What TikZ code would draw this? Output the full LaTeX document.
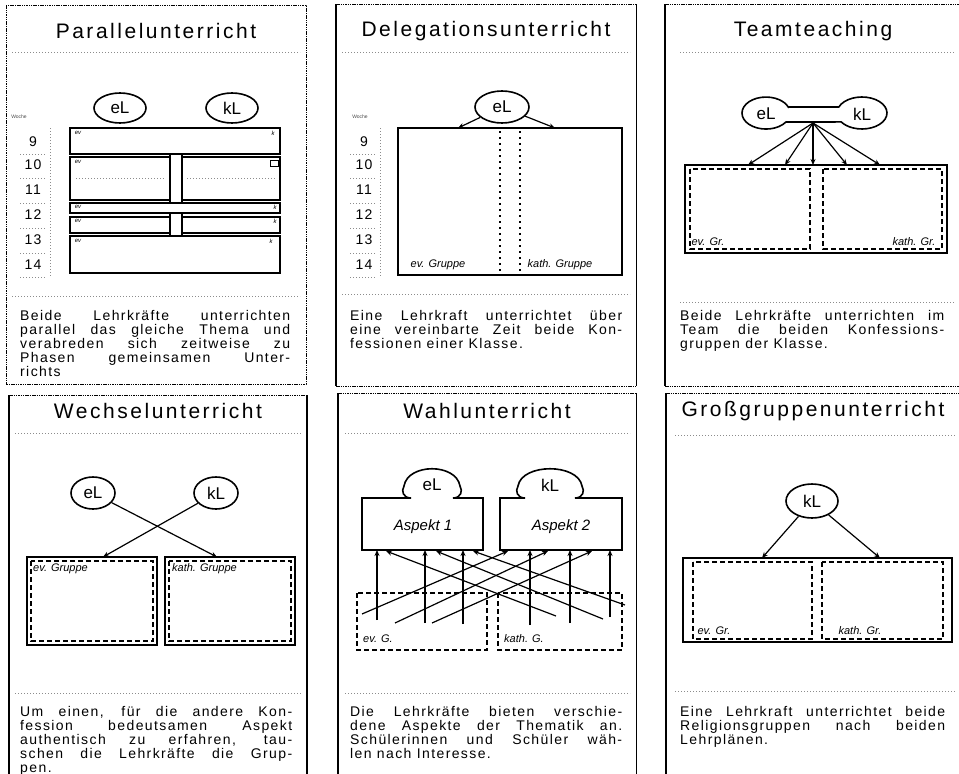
\documentclass[tikz,border=0pt]{standalone}
\usepackage{fontspec}
\setmainfont{Liberation Sans}
\newfontfamily\titlefont[LetterSpace=12]{Liberation Sans}
\newfontfamily\bodyfont[LetterSpace=10]{Liberation Sans}
\newfontfamily\numfont[LetterSpace=8]{Liberation Sans}
\usetikzlibrary{arrows.meta,shapes.geometric}
\newcommand{\jline}[2]{\makebox[#1][s]{#2}}
\begin{document}
\begin{tikzpicture}[x=1pt,y=-1pt,
  titletxt/.style={font=\titlefont\fontsize{21}{23}\selectfont, inner sep=0pt},
  bodytxt/.style={font=\bodyfont\fontsize{14}{15}\selectfont, inner sep=0pt, anchor=base west},
  numtxt/.style={font=\numfont\fontsize{14}{15}\selectfont, inner sep=0pt},
  tinytxt/.style={font=\fontsize{5}{6}\selectfont, inner sep=0pt, text=black!70},
  marktxt/.style={font=\itshape\fontsize{6}{7}\selectfont, inner sep=0pt},
  hand/.style={font=\itshape\fontsize{11}{12}\selectfont, inner sep=0pt},
  handbig/.style={font=\fontsize{17}{19}\selectfont, inner sep=0pt},
  handasp/.style={font=\itshape\fontsize{15}{17}\selectfont, inner sep=0pt},
  teacher/.style={ellipse, draw, line width=1.6pt, inner sep=0pt, font=\fontsize{17}{19}\selectfont},
  dline/.style={line width=1.4pt},
  bigbox/.style={line width=2.4pt},
  grp/.style={line width=1.3pt, dash pattern=on 5pt off 3pt},
  dotv/.style={line width=1.4pt, dash pattern=on 2pt off 4pt},
  arr/.style={line width=1.2pt, -{Stealth[length=6pt,width=5pt]}},
  scanline/.style={black!45, line width=0.6pt, dash pattern=on 1pt off 2pt},
  pedge/.style={line width=0.8pt, dash pattern=on 1.5pt off 0.8pt},
  pleft/.style={line width=1.8pt},
]
\useasboundingbox (0,0) rectangle (959,774);
\fill[white] (0,0) rectangle (959,774);

% ---------- panel frames ----------
\draw[pedge] (6,5) rectangle (306,384);
\draw[pleft] (336,4) -- (336,386);
\draw[line width=1pt] (636,4) -- (636,386);
\draw[pedge] (336,4) -- (636,4) (336,386) -- (636,386);
\draw[pleft] (665,4) -- (665,386);
\draw[pedge] (665,4) -- (959,4) (665,386) -- (959,386);
\draw[line width=1.5pt] (9,395) -- (9,774);
\draw[line width=1.2pt] (307,395) -- (307,774);
\draw[pedge] (9,395) -- (307,395);
\draw[pleft] (338,393) -- (338,774);
\draw[line width=1pt] (636,393) -- (636,774);
\draw[pedge] (338,393) -- (636,393);
\draw[pleft] (666,393) -- (666,774);
\draw[pedge] (666,393) -- (959,393);

% scan rules
\draw[scanline] (12,52) -- (300,52) (12,296) -- (300,296);
\draw[scanline] (342,52) -- (630,52) (342,294) -- (630,294);
\draw[scanline] (680,52) -- (955,52) (680,302) -- (955,302);
\draw[scanline] (15,433) -- (302,433) (15,693) -- (302,693);
\draw[scanline] (345,433) -- (630,433) (345,693) -- (630,693);
\draw[scanline] (675,435) -- (955,435) (675,691) -- (955,691);

% ---------- titles ----------
\node[titletxt] (ti1) at (156,31) {Parallelunterricht};
\node[titletxt] (ti2) at (486,31) {Delegationsunterricht};
\node[titletxt] (ti3) at (813,31) {Teamteaching};
\node[titletxt] (ti4) at (158,411) {Wechselunterricht};
\node[titletxt] (ti5) at (487,411) {Wahlunterricht};
\node[titletxt] (ti6) at (813,411) {Großgruppenunterricht};

% ---------- Panel 1 ----------
\node[tinytxt] (wo1) at (19,117) {Woche};
\foreach \n/\yy in {9/142,10/165,11/190,12/215,13/240,14/265}
  \node[numtxt] (pa\n) at (33,\yy) {\n};
\draw[scanline] (50,128) -- (50,277);
\foreach \yy in {154,178,203,228,253,277} \draw[scanline] (20,\yy) -- (45,\yy);
\node[teacher, minimum width=52pt, minimum height=30pt] (el1) at (120,108) {eL};
\node[teacher, minimum width=52pt, minimum height=30pt] (kl1) at (232,108) {kL};
\draw[dline] (70,128) rectangle (280,154);
\draw[dline] (70,157) rectangle (170,200);
\draw[dline] (182,157) rectangle (280,200);
\draw[dline] (70,203) rectangle (280,213);
\draw[dline] (70,217) rectangle (170,233);
\draw[dline] (182,217) rectangle (280,233);
\draw[dline] (70,236) rectangle (280,273);
\draw[dline] (170,154) -- (170,203) (182,154) -- (182,203);
\draw[dline] (170,213) -- (170,236) (182,213) -- (182,236);
\draw[scanline] (76,178) -- (165,178) (187,178) -- (275,178);
\foreach \yy [count=\i] in {133,162,207,221,241} \node[marktxt] (mev\i) at (78,\yy) {ev};
\foreach \yy/\xx [count=\i] in {133/273,207/275,221/275,241/271} \node[marktxt] (mk\i) at (\xx,\yy) {k};
\draw[line width=0.8pt] (270,160) rectangle (278,166);

\node[bodytxt] (b1a) at (20,320) {\jline{270pt}{Beide Lehrkräfte unterrichten}};
\node[bodytxt] (b1b) at (20,334) {\jline{270pt}{parallel das gleiche Thema und}};
\node[bodytxt] (b1c) at (20,348) {\jline{270pt}{verabreden sich zeitweise zu}};
\node[bodytxt] (b1d) at (20,362) {\jline{270pt}{Phasen gemeinsamen Unter-}};
\node[bodytxt] (b1e) at (20,376) {richts};

% ---------- Panel 2 ----------
\node[tinytxt] (wo2) at (360,117) {Woche};
\foreach \n/\yy in {9/142,10/165,11/190,12/215,13/240,14/265}
  \node[numtxt] (pb\n) at (364,\yy) {\n};
\draw[scanline] (380,128) -- (380,277);
\foreach \yy in {154,178,203,228,253,277} \draw[scanline] (350,\yy) -- (376,\yy);
\node[teacher, minimum width=54pt, minimum height=32pt] (el2) at (502,107) {eL};
\draw[bigbox] (398,128) rectangle (622,275);
\coordinate (d2a) at (458,128);
\coordinate (d2b) at (555,128);
\draw[arr] (el2) -- (d2a);
\draw[arr] (el2) -- (d2b);
\draw[dotv] (500,131) -- (500,273) (520,131) -- (520,273);
\node[hand] (lg2a) at (438,265) {ev. Gruppe};
\node[hand] (lg2b) at (560,265) {kath. Gruppe};

\node[bodytxt] (b2a) at (350,320) {\jline{272pt}{Eine Lehrkraft unterrichtet über}};
\node[bodytxt] (b2b) at (350,334) {\jline{272pt}{eine vereinbarte Zeit beide Kon-}};
\node[bodytxt] (b2c) at (350,348) {fessionen einer Klasse.};

% ---------- Panel 3 ----------
\draw[line width=1.6pt] (788.3,107) -- (838.8,107)
  arc[start angle=158, end angle=-146, x radius=25pt, y radius=16pt]
  -- (785.9,122)
  arc[start angle=-34, end angle=-338, x radius=24pt, y radius=16pt] -- cycle;
\node[handbig] (el3) at (766,114) {eL};
\node[handbig] (kl3) at (862,114) {kL};
\coordinate (tto) at (813,123);
\draw[bigbox] (685,165) rectangle (947,253);
\draw[grp] (690,169) rectangle (810,249);
\draw[grp] (823,169) rectangle (942,249);
\foreach \xx [count=\i] in {748,785,813,847,880} {
  \coordinate (tt\i) at (\xx,165);
  \draw[arr] (tto) -- (tt\i);
}
\node[hand] (lg3a) at (708,242) {ev. Gr.};
\node[hand] (lg3b) at (914,242) {kath. Gr.};

\node[bodytxt] (b3a) at (680,320) {\jline{264pt}{Beide Lehrkräfte unterrichten im}};
\node[bodytxt] (b3b) at (680,334) {\jline{264pt}{Team die beiden Konfessions-}};
\node[bodytxt] (b3c) at (680,348) {gruppen der Klasse.};

% ---------- Panel 4 ----------
\node[teacher, minimum width=44pt, minimum height=32pt] (el4) at (93,493) {eL};
\node[teacher, minimum width=44pt, minimum height=32pt] (kl4) at (216,493) {kL};
\draw[bigbox] (27,557) rectangle (157,645);
\draw[bigbox] (165,557) rectangle (295,645);
\draw[grp] (31,561) rectangle (153,641);
\draw[grp] (169,561) rectangle (291,641);
\coordinate (w4a) at (103,557);
\coordinate (w4b) at (217,557);
\draw[arr] (el4) -- (w4b);
\draw[arr] (kl4) -- (w4a);
\node[hand, anchor=west] (lg4a) at (33,569) {ev. Gruppe};
\node[hand, anchor=west] (lg4b) at (172,569) {kath. Gruppe};

\node[bodytxt] (b4a) at (20,716) {\jline{272pt}{Um einen, für die andere Kon-}};
\node[bodytxt] (b4b) at (20,730) {\jline{272pt}{fession bedeutsamen Aspekt}};
\node[bodytxt] (b4c) at (20,744) {\jline{272pt}{authentisch zu erfahren, tau-}};
\node[bodytxt] (b4d) at (20,758) {\jline{272pt}{schen die Lehrkräfte die Grup-}};
\node[bodytxt] (b4e) at (20,772) {pen.};

% ---------- Panel 5 ----------
\draw[line width=1.6pt] (362,550) -- (362,498) -- (411,498)
  .. controls (403,498) and (401,491) .. (404,486)
  .. controls (408,463) and (456,463) .. (460,486)
  .. controls (463,491) and (461,498) .. (453,498)
  -- (483,498) -- (483,550) -- cycle;
\draw[line width=1.6pt] (500,550) -- (500,498) -- (525,498)
  .. controls (517,498) and (515,491) .. (518,486)
  .. controls (522,463) and (578,463) .. (582,486)
  .. controls (585,491) and (583,498) .. (575,498)
  -- (622,498) -- (622,550) -- cycle;
\node[handbig] (el5) at (432,485) {eL};
\node[handbig] (kl5) at (550,485) {kL};
\node[handasp] (as1) at (423,527) {Aspekt 1};
\node[handasp] (as2) at (561,527) {Aspekt 2};
\draw[grp] (357,593) rectangle (487,650);
\draw[grp] (498,593) rectangle (622,650);
\foreach \xx/\yy [count=\i] in {377/620,425/623,463/624,530/625,570/623,610/617} {
  \coordinate (vs\i) at (\xx,\yy);
  \coordinate (ve\i) at (\xx,550);
  \draw[arr] (vs\i) -- (ve\i);
}
\foreach \sx/\sy/\ex [count=\i] in {556/616/386,603/619/436,625/605/473} {
  \coordinate (ds\i) at (\sx,\sy);
  \coordinate (de\i) at (\ex,551);
  \draw[arr] (ds\i) -- (de\i);
}
\foreach \sx/\sy/\ex [count=\i] in {362/614/508,395/623/548,432/623/592} {
  \coordinate (fs\i) at (\sx,\sy);
  \coordinate (fe\i) at (\ex,551);
  \draw[arr] (fs\i) -- (fe\i);
}
\node[hand] (lg5a) at (378,639) {ev. G.};
\node[hand] (lg5b) at (524,639) {kath. G.};

\node[bodytxt] (b5a) at (350,716) {\jline{272pt}{Die Lehrkräfte bieten verschie-}};
\node[bodytxt] (b5b) at (350,730) {\jline{272pt}{dene Aspekte der Thematik an.}};
\node[bodytxt] (b5c) at (350,744) {\jline{272pt}{Schülerinnen und Schüler wäh-}};
\node[bodytxt] (b5d) at (350,758) {len nach Interesse.};

% ---------- Panel 6 ----------
\node[teacher, minimum width=52pt, minimum height=34pt] (kl6) at (812,501) {kL};
\draw[bigbox] (683,558) rectangle (952,642);
\draw[grp] (693,562) rectangle (812,639);
\draw[grp] (822,562) rectangle (943,639);
\coordinate (g6a) at (762,558);
\coordinate (g6b) at (880,558);
\draw[arr] (kl6) -- (g6a);
\draw[arr] (kl6) -- (g6b);
\node[hand] (lg6a) at (714,631) {ev. Gr.};
\node[hand] (lg6b) at (860,631) {kath. Gr.};

\node[bodytxt] (b6a) at (680,716) {\jline{265pt}{Eine Lehrkraft unterrichtet beide}};
\node[bodytxt] (b6b) at (680,730) {\jline{265pt}{Religionsgruppen nach beiden}};
\node[bodytxt] (b6c) at (680,744) {Lehrplänen.};
\end{tikzpicture}
\end{document}
